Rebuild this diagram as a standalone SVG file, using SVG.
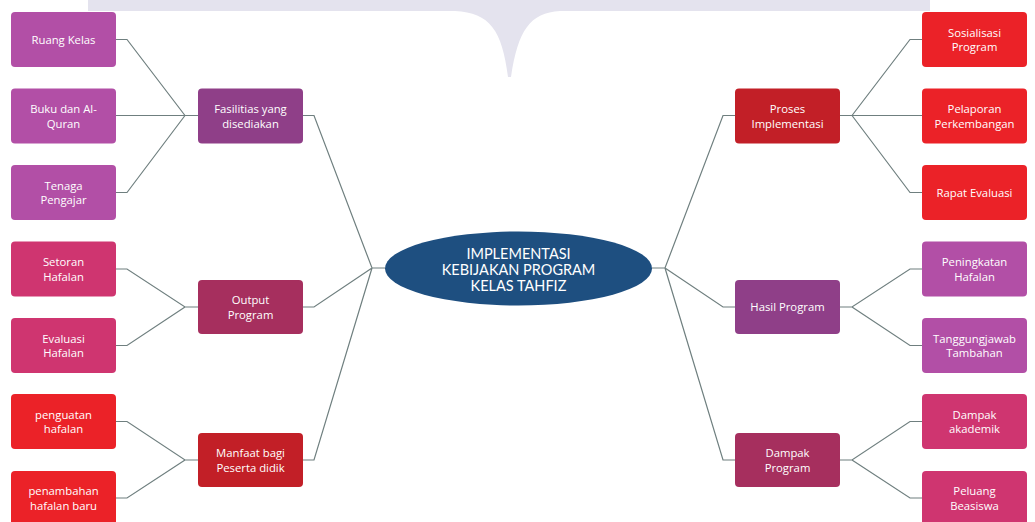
<svg xmlns="http://www.w3.org/2000/svg" width="1035" height="522" viewBox="0 0 1035 522">
<style>
.n rect{rx:4;ry:4}
.t{font-family:"Open Sans","Liberation Sans",sans-serif;font-size:11.3px;fill:#fff;text-anchor:middle}
.c{font-family:Lato,"Liberation Sans",sans-serif;font-size:14.5px;fill:#fff;text-anchor:middle}
.lp{fill:#B24FA6}.pp{fill:#8F3F88}
.lk{fill:#CF3570}.pk{fill:#A62F5E}
.lr{fill:#EB2228}.pr{fill:#C21F27}
#connectors path{fill:none;stroke:#6F7F7F;stroke-width:1.2}
</style>
<rect width="1035" height="522" fill="#fff"/>
<path d="M88,0 H930 V11 H560 C530,13 518,30 511,77 L508,77 C502,30 490,13 455,11 H88 Z" fill="#E4E3EE"/>
<g id="connectors">
<path d="M116,39.5 H127 L185,115.5 H198 M116,115.5 H198 M116,192.5 H127 L185,115.5"/>
<path d="M116,269 H127 L185,307 H198 M116,345.5 H127 L185,307"/>
<path d="M116,421.5 H127 L185,460 H198 M116,498 H127 L185,460"/>
<path d="M303,115.5 H314 L372,268 H385 M303,307 H314 L372,268 M303,460 H314 L372,268"/>
<path d="M735,115.5 H723 L665,268 H652 M735,307 H723 L665,268 M735,460 H723 L665,268"/>
<path d="M840,115.5 H852 L910,39.5 H922 M840,115.5 H922 M852,115.5 L910,192.5 H922"/>
<path d="M840,307 H852 L910,269 H922 M852,307 L910,345.5 H922"/>
<path d="M840,460 H852 L910,421.5 H922 M852,460 L910,498 H922"/>
</g>
<g id="center" class="n">
<ellipse cx="518.5" cy="268.5" rx="133.5" ry="37" fill="#1E4F80"/>
<text class="c" x="518.5" y="258.5">IMPLEMENTASI</text>
<text class="c" x="518.5" y="274.5">KEBIJAKAN PROGRAM</text>
<text class="c" x="518.5" y="290.5">KELAS TAHFIZ</text>
</g>
<g id="ruang-kelas" class="n"><rect class="lp" x="11" y="12" width="105" height="55"/><text class="t" x="63.5" y="43.5">Ruang Kelas</text></g>
<g id="buku" class="n"><rect class="lp" x="11" y="88.5" width="105" height="55"/><text class="t" x="63.5" y="113">Buku dan Al-</text><text class="t" x="63.5" y="127.5">Quran</text></g>
<g id="tenaga" class="n"><rect class="lp" x="11" y="165" width="105" height="55"/><text class="t" x="63.5" y="189.5">Tenaga</text><text class="t" x="63.5" y="204">Pengajar</text></g>
<g id="setoran" class="n"><rect class="lk" x="11" y="241.5" width="105" height="55"/><text class="t" x="63.5" y="266">Setoran</text><text class="t" x="63.5" y="280.5">Hafalan</text></g>
<g id="evaluasi" class="n"><rect class="lk" x="11" y="318" width="105" height="55"/><text class="t" x="63.5" y="342.5">Evaluasi</text><text class="t" x="63.5" y="357">Hafalan</text></g>
<g id="penguatan" class="n"><rect class="lr" x="11" y="394" width="105" height="55"/><text class="t" x="63.5" y="418.5">penguatan</text><text class="t" x="63.5" y="433">hafalan</text></g>
<g id="penambahan" class="n"><rect class="lr" x="11" y="471" width="105" height="55"/><text class="t" x="63.5" y="495">penambahan</text><text class="t" x="63.5" y="509.5">hafalan baru</text></g>
<g id="fasilitas" class="n"><rect class="pp" x="198" y="88.5" width="105" height="55"/><text class="t" x="250.5" y="113">Fasilitias yang</text><text class="t" x="250.5" y="127.5">disediakan</text></g>
<g id="output" class="n"><rect class="pk" x="198" y="280" width="105" height="54"/><text class="t" x="250.5" y="304">Output</text><text class="t" x="250.5" y="318.5">Program</text></g>
<g id="manfaat" class="n"><rect class="pr" x="198" y="433" width="105" height="54"/><text class="t" x="250.5" y="457">Manfaat bagi</text><text class="t" x="250.5" y="471.5">Peserta didik</text></g>
<g id="proses" class="n"><rect class="pr" x="735" y="88.5" width="105" height="55"/><text class="t" x="787.5" y="113">Proses</text><text class="t" x="787.5" y="127.5">Implementasi</text></g>
<g id="hasil" class="n"><rect class="pp" x="735" y="280" width="105" height="54"/><text class="t" x="787.5" y="311">Hasil Program</text></g>
<g id="dampak" class="n"><rect class="pk" x="735" y="433" width="105" height="54"/><text class="t" x="787.5" y="457">Dampak</text><text class="t" x="787.5" y="471.5">Program</text></g>
<g id="sosialisasi" class="n"><rect class="lr" x="922" y="12" width="105" height="55"/><text class="t" x="974.5" y="36.5">Sosialisasi</text><text class="t" x="974.5" y="51">Program</text></g>
<g id="pelaporan" class="n"><rect class="lr" x="922" y="88.5" width="105" height="55"/><text class="t" x="974.5" y="113">Pelaporan</text><text class="t" x="974.5" y="127.5">Perkembangan</text></g>
<g id="rapat" class="n"><rect class="lr" x="922" y="165" width="105" height="55"/><text class="t" x="974.5" y="196.5">Rapat Evaluasi</text></g>
<g id="peningkatan" class="n"><rect class="lp" x="922" y="241.5" width="105" height="55"/><text class="t" x="974.5" y="266">Peningkatan</text><text class="t" x="974.5" y="280.5">Hafalan</text></g>
<g id="tanggungjawab" class="n"><rect class="lp" x="922" y="318" width="105" height="55"/><text class="t" x="974.5" y="342.5">Tanggungjawab</text><text class="t" x="974.5" y="357">Tambahan</text></g>
<g id="akademik" class="n"><rect class="lk" x="922" y="394" width="105" height="55"/><text class="t" x="974.5" y="418.5">Dampak</text><text class="t" x="974.5" y="433">akademik</text></g>
<g id="beasiswa" class="n"><rect class="lk" x="922" y="471" width="105" height="55"/><text class="t" x="974.5" y="495">Peluang</text><text class="t" x="974.5" y="509.5">Beasiswa</text></g>
</svg>
